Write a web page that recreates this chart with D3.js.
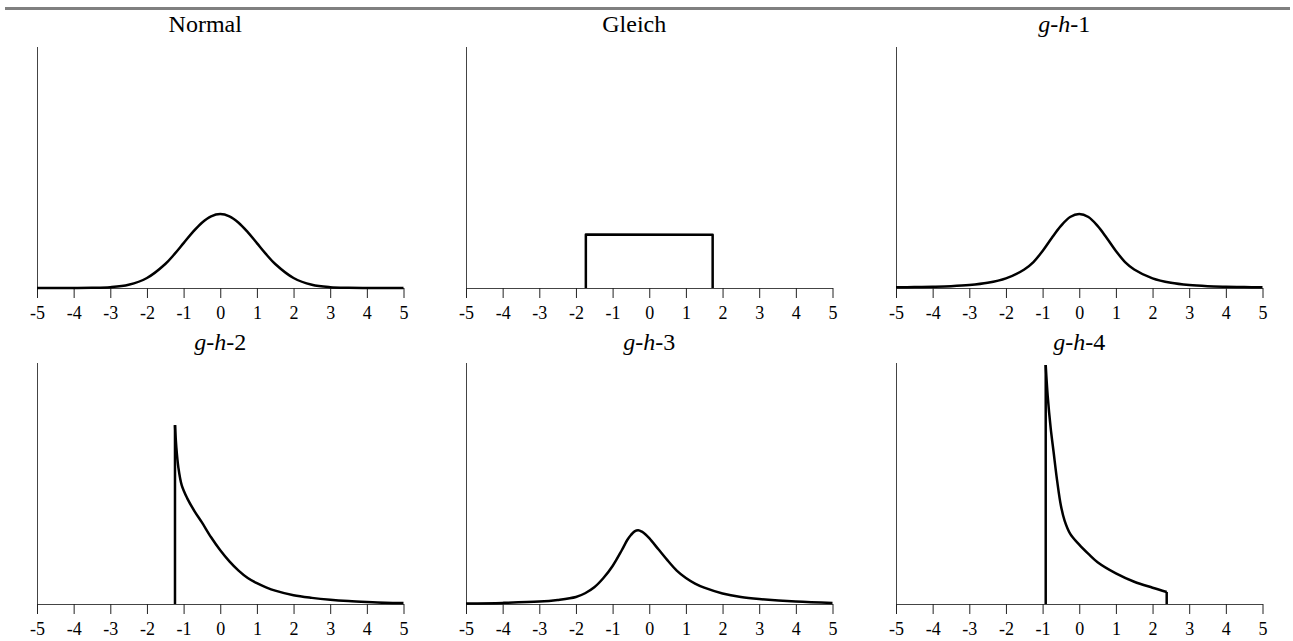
<!DOCTYPE html>
<html>
<head>
<meta charset="utf-8">
<script src="https://cdn.jsdelivr.net/npm/d3@7"></script>
<style>
  body { margin: 0; background: #fff; }
</style>
</head>
<body>
<svg id="chart" width="1293" height="641"></svg>
<script>
const serif = "'Liberation Serif', 'Times New Roman', Times, serif";

// tick labels on every x axis
const xTicks = [-5, -4, -3, -2, -1, 0, 1, 2, 3, 4, 5];

// density values [x, f(x)]
const normalPts = [[-5, 0], [-4.5, 0], [-4, 0.0001], [-3.5, 0.0009], [-3, 0.0044], [-2.5, 0.0175],
  [-2, 0.054], [-1.5, 0.1295], [-1.25, 0.1826], [-1, 0.242], [-0.75, 0.3011], [-0.5, 0.3521],
  [-0.25, 0.3867], [0, 0.3989], [0.25, 0.3867], [0.5, 0.3521], [0.75, 0.3011], [1, 0.242],
  [1.25, 0.1826], [1.5, 0.1295], [2, 0.054], [2.5, 0.0175], [3, 0.0044], [3.5, 0.0009],
  [4, 0.0001], [4.5, 0], [5, 0]];

const gleichPts = [[-1.73, 0], [-1.73, 0.289], [1.73, 0.287], [1.73, 0]];

const gh1Pts = [[-5, 0.004], [-4.5, 0.005], [-4, 0.007], [-3.5, 0.01], [-3, 0.016], [-2.5, 0.028],
  [-2, 0.052], [-1.5, 0.1], [-1.25, 0.14], [-1, 0.2], [-0.75, 0.27], [-0.5, 0.335], [-0.25, 0.383],
  [0, 0.399], [0.25, 0.383], [0.5, 0.335], [0.75, 0.27], [1, 0.2], [1.25, 0.14], [1.5, 0.1],
  [2, 0.052], [2.5, 0.028], [3, 0.016], [3.5, 0.01], [4, 0.007], [4.5, 0.005], [5, 0.004]];

const gh2Spike = [[-1.235, 0], [-1.235, 0.965]];
const gh2Tail = [[-1.235, 0.965], [-1.2, 0.85], [-1.145, 0.74], [-1.05, 0.64], [-0.9, 0.57],
  [-0.7, 0.5], [-0.5, 0.44], [-0.25, 0.36], [0, 0.29], [0.25, 0.23], [0.5, 0.18], [0.75, 0.14],
  [1, 0.112], [1.25, 0.09], [1.5, 0.072], [2, 0.047], [2.5, 0.033], [3, 0.023], [3.5, 0.016],
  [4, 0.011], [4.5, 0.007], [5, 0.005]];

const gh3Pts = [[-5, 0.003], [-4, 0.006], [-3, 0.013], [-2.5, 0.022], [-2, 0.038], [-1.75, 0.058],
  [-1.5, 0.09], [-1.25, 0.14], [-1, 0.205], [-0.75, 0.29], [-0.6, 0.345], [-0.5, 0.372],
  [-0.4, 0.392], [-0.3, 0.398], [-0.2, 0.39], [-0.1, 0.375], [0, 0.355], [0.25, 0.295],
  [0.5, 0.235], [0.75, 0.18], [1, 0.14], [1.25, 0.11], [1.5, 0.088], [2, 0.057], [2.5, 0.038],
  [3, 0.027], [4, 0.013], [5, 0.006]];

const gh4Spike = [[-0.915, 0], [-0.915, 1.289]];
const gh4Tail = [[-0.915, 1.289], [-0.86, 1.12], [-0.78, 0.95], [-0.7, 0.82], [-0.6, 0.66],
  [-0.5, 0.53], [-0.4, 0.45], [-0.25, 0.38], [0, 0.32], [0.25, 0.27], [0.5, 0.225], [1, 0.165],
  [1.5, 0.12], [2, 0.088], [2.386, 0.065]];
const gh4End = [[2.386, 0.065], [2.386, 0]];

// titles: [text, italic]
const titles = [
  [["Normal", false]],
  [["Gleich", false]],
  [["g", true], ["-", false], ["h", true], ["-1", false]],
  [["g", true], ["-", false], ["h", true], ["-2", false]],
  [["g", true], ["-", false], ["h", true], ["-3", false]],
  [["g", true], ["-", false], ["h", true], ["-4", false]]
];

// each panel: list of parts, smooth or straight
const panels = [
  [{ pts: normalPts, smooth: true }],
  [{ pts: gleichPts, smooth: false }],
  [{ pts: gh1Pts, smooth: true }],
  [{ pts: gh2Spike, smooth: false }, { pts: gh2Tail, smooth: true }],
  [{ pts: gh3Pts, smooth: true }],
  [{ pts: gh4Spike, smooth: false }, { pts: gh4Tail, smooth: true }, { pts: gh4End, smooth: false }]
];

const svg = d3.select("#chart");

// grey rule along the top
svg.append("rect")
  .attr("x", 5).attr("y", 7)
  .attr("width", 1285).attr("height", 3)
  .attr("fill", "#808080");

const colX = [37, 466, 896];
const rowY = [288, 604];
const titleY = [32, 350];
const titleShift = [-15, 0];
const plotW = 366.5, plotH = 241;

const x = d3.scaleLinear().domain([-5, 5]).range([0, plotW]);
const y = d3.scaleLinear().domain([0, 1.3]).range([0, -plotH]);

const smoothLine = d3.line().x(d => x(d[0])).y(d => y(d[1])).curve(d3.curveCatmullRom.alpha(0.5));
const straightLine = d3.line().x(d => x(d[0])).y(d => y(d[1]));

panels.forEach((parts, i) => {
  const col = i % 3, row = Math.floor(i / 3);
  const g = svg.append("g").attr("transform", `translate(${colX[col]},${rowY[row]})`);

  // y axis (no ticks)
  g.append("line")
    .attr("x1", 0.5).attr("x2", 0.5)
    .attr("y1", 0).attr("y2", -plotH)
    .attr("stroke", "#444").attr("stroke-width", 1);

  // x axis
  const ax = g.append("g")
    .call(d3.axisBottom(x).tickValues(xTicks).tickSize(10).tickSizeOuter(0)
      .tickPadding(8).tickFormat(d => String(d)));
  ax.attr("font-family", serif).attr("font-size", 18);
  ax.select(".domain").attr("stroke", "#444");
  ax.selectAll(".tick line").attr("stroke", "#222");
  ax.selectAll(".tick text").attr("fill", "#000").attr("font-family", serif);

  // curve
  parts.forEach(p => {
    g.append("path")
      .attr("d", (p.smooth ? smoothLine : straightLine)(p.pts))
      .attr("fill", "none")
      .attr("stroke", "#000")
      .attr("stroke-width", 2.5)
      .attr("stroke-linejoin", "round");
  });

  // title
  const t = svg.append("text")
    .attr("x", colX[col] + plotW / 2 + titleShift[row])
    .attr("y", titleY[row])
    .attr("text-anchor", "middle")
    .attr("font-family", serif)
    .attr("font-size", 24)
    .attr("fill", "#000");
  titles[i].forEach(s => {
    t.append("tspan").text(s[0]).attr("font-style", s[1] ? "italic" : "normal");
  });
});
</script>
</body>
</html>
